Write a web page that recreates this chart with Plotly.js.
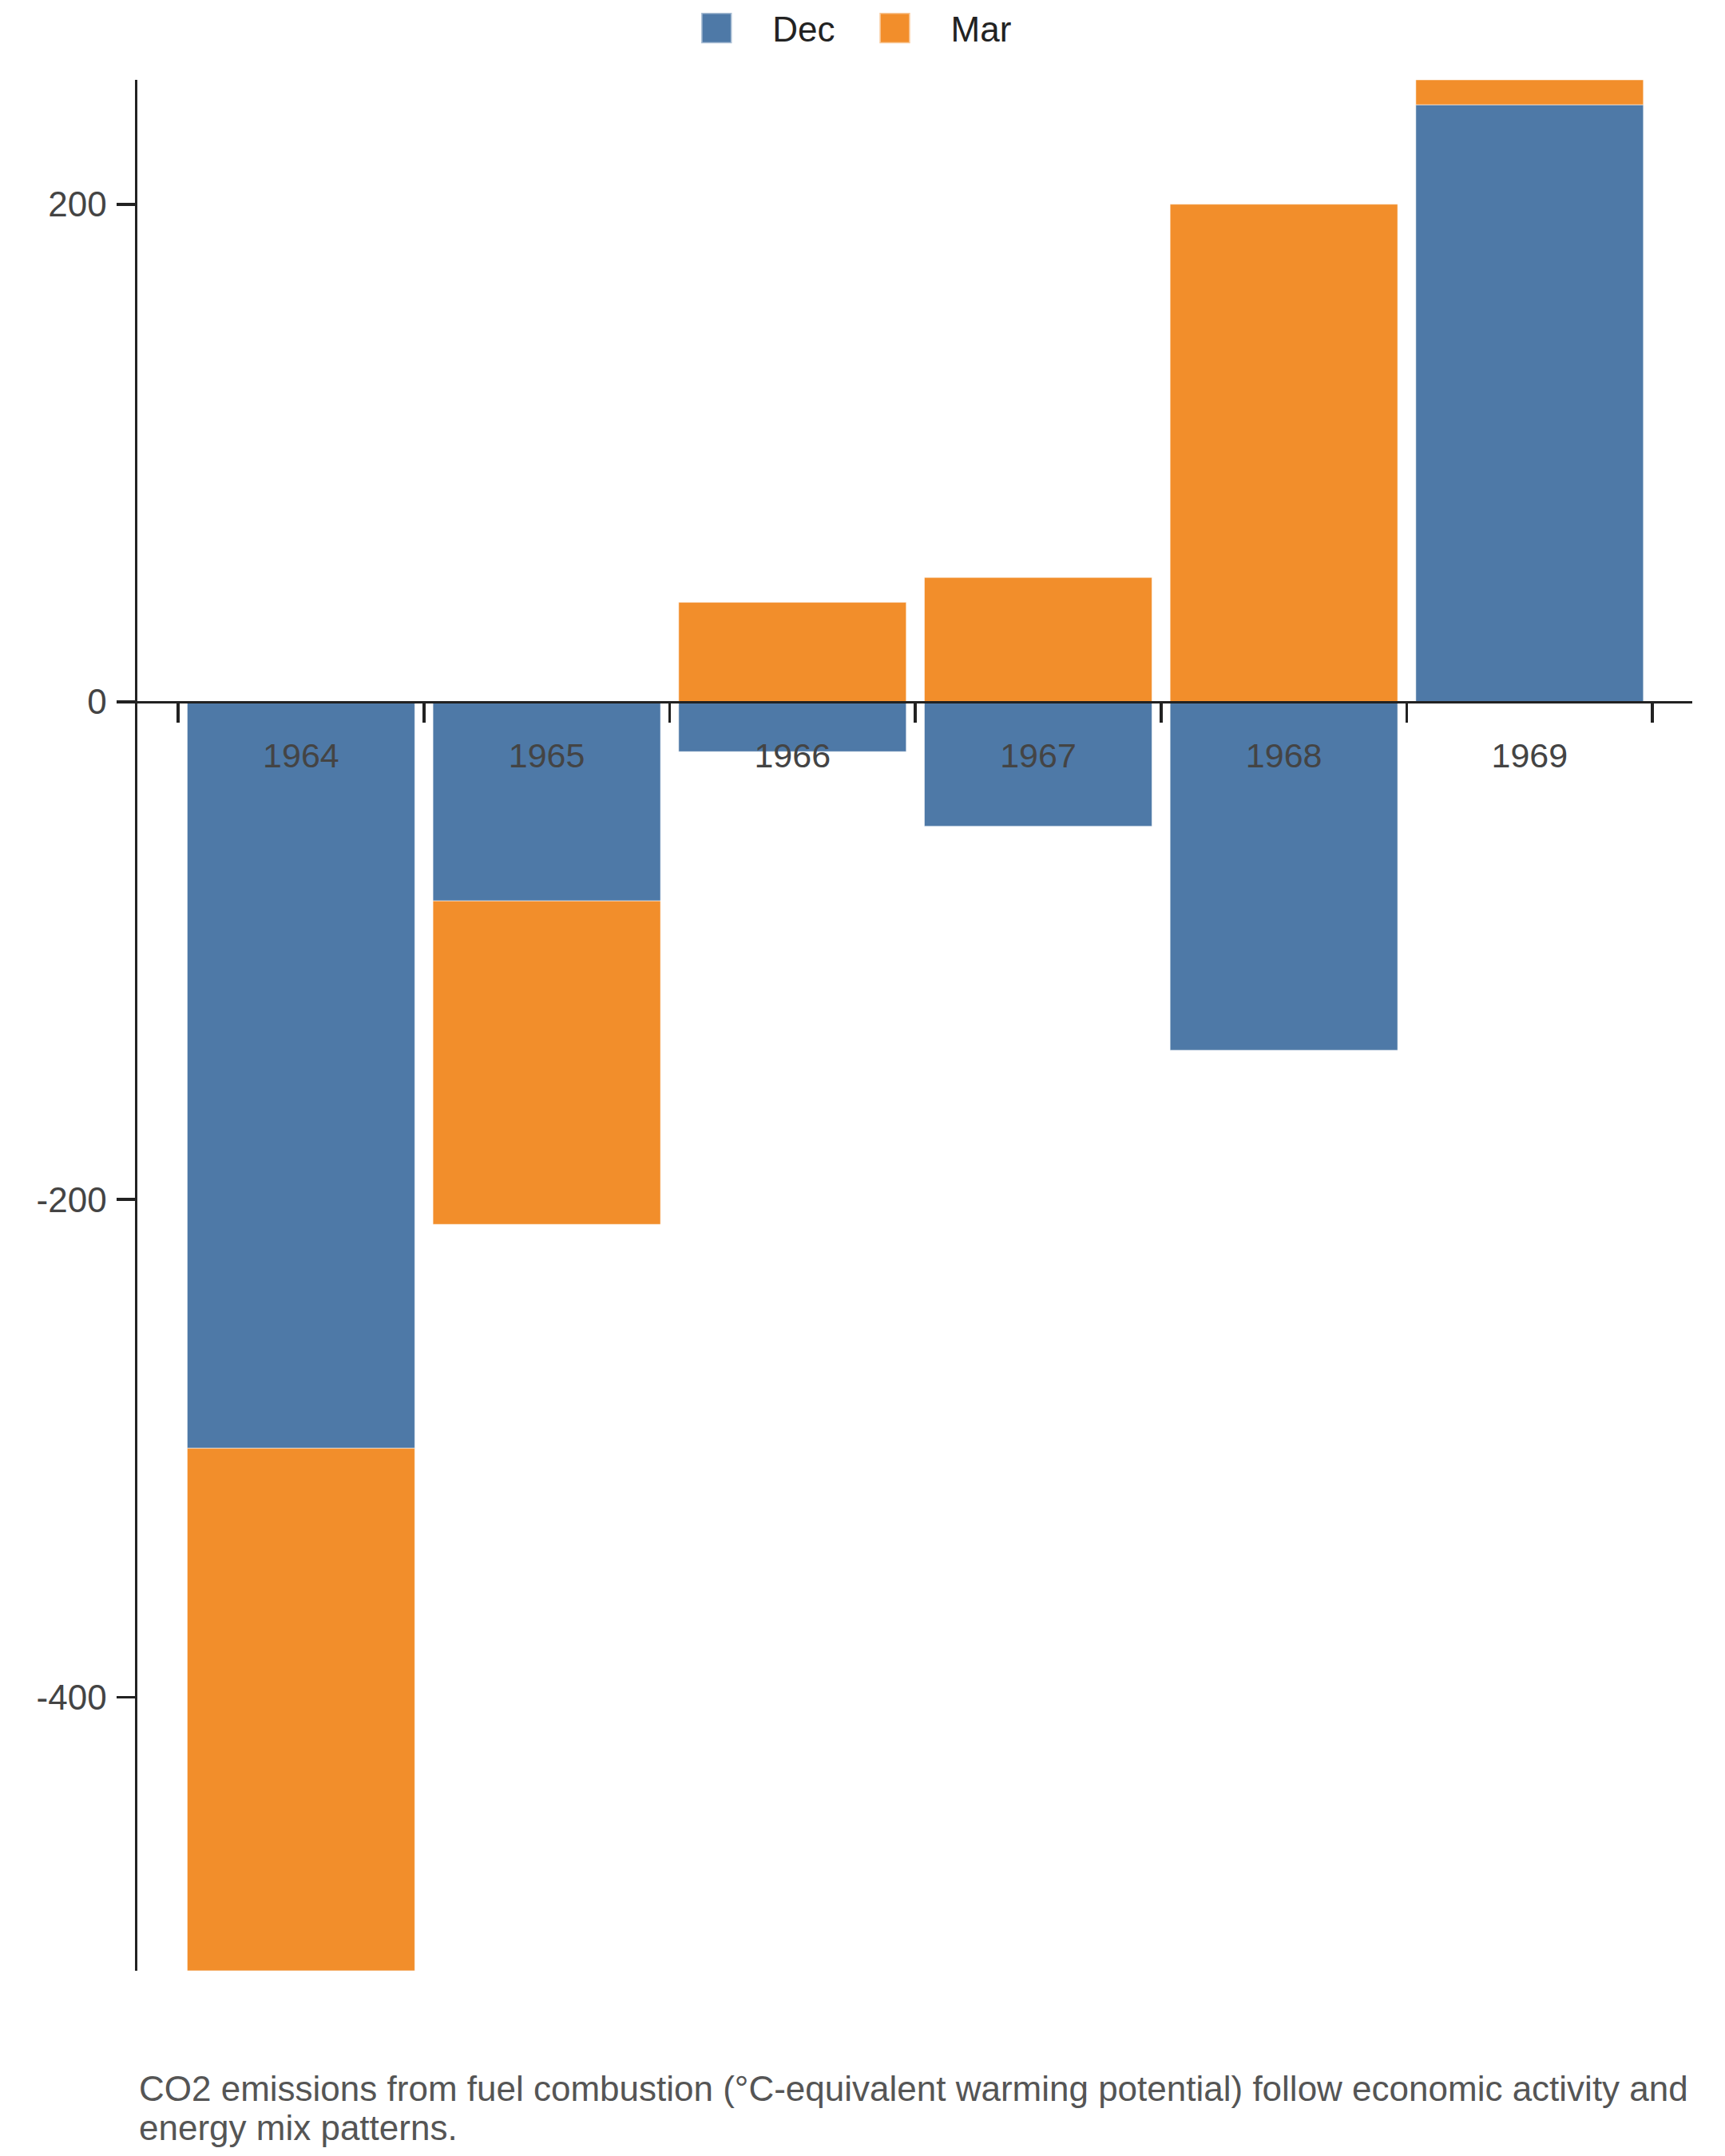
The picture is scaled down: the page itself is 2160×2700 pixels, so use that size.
<!DOCTYPE html>
<html>
<head>
<meta charset="utf-8">
<script src="https://cdn.plot.ly/plotly-3.0.1.min.js"></script>
<style>
  html, body { margin: 0; padding: 0; background: #fff; }
  #chart { width: 2160px; height: 2700px; }
</style>
</head>
<body>
<div id="chart"></div>
<script>
// values
var years = ['1964', '1965', '1966', '1967', '1968', '1969'];
var decValues = [-300, -80, -20, -50, -140, 240];
var marValues = [-210, -130, 40, 50, 200, 10];
var yTickVals = [-400, -200, 0, 200];
var yTickText = ['-400', '-200', '0', '200'];
var captionLines = [
  'CO2 emissions from fuel combustion (°C-equivalent warming potential) follow economic activity and',
  'energy mix patterns.'
];

var yRange = [-510, 250];
var xRange = [-0.666, 5.662];
// x axis sits on the zero line
var zeroPos = (0 - yRange[0]) / (yRange[1] - yRange[0]);

var fontFam = '"Liberation Sans", Arial, sans-serif';

var data = [
  {
    type: 'bar',
    name: 'Dec',
    x: years,
    y: decValues,
    marker: { color: '#4e79a7', line: { color: 'rgba(255,255,255,0.5)', width: 1 } },
    hoverinfo: 'x+y+name'
  },
  {
    type: 'bar',
    name: 'Mar',
    x: years,
    y: marValues,
    marker: { color: '#f28e2b', line: { color: 'rgba(255,255,255,0.5)', width: 1 } },
    hoverinfo: 'x+y+name'
  }
];

var annots = captionLines.map(function (t, i) {
  return {
    text: t,
    xref: 'paper',
    yref: 'paper',
    x: 0,
    y: -0.0513 - i * 0.0203,
    xanchor: 'left',
    yanchor: 'top',
    align: 'left',
    showarrow: false,
    font: { family: fontFam, size: 44, color: '#555' }
  };
});

var layout = {
  width: 2160,
  height: 2700,
  barmode: 'relative',
  bargap: 0.074,
  paper_bgcolor: '#ffffff',
  plot_bgcolor: '#ffffff',
  font: { family: fontFam, size: 43, color: '#444' },
  margin: { l: 172, r: 41, t: 100, b: 232, pad: 0 },
  showlegend: true,
  legend: {
    orientation: 'h',
    xref: 'container',
    yref: 'container',
    x: 0.486,
    xanchor: 'center',
    y: 1,
    yanchor: 'top',
    font: { family: fontFam, size: 44, color: '#222' },
    itemwidth: 130,
    traceorder: 'normal'
  },
  xaxis: {
    type: 'category',
    range: xRange,
    anchor: 'free',
    position: zeroPos,
    showline: true,
    linecolor: '#222',
    linewidth: 3.5,
    ticks: 'outside',
    tickson: 'boundaries',
    ticklen: 24,
    tickwidth: 3.5,
    tickcolor: '#222',
    showgrid: false,
    zeroline: false,
    tickfont: { family: fontFam, size: 43, color: '#444' },
    ticklabelstandoff: 28,
    fixedrange: true
  },
  yaxis: {
    range: yRange,
    showline: true,
    linecolor: '#222',
    linewidth: 3.5,
    ticks: 'outside',
    ticklen: 23,
    tickwidth: 3.5,
    tickcolor: '#222',
    tickmode: 'array',
    tickvals: yTickVals,
    ticktext: yTickText,
    showgrid: false,
    zeroline: false,
    tickfont: { family: fontFam, size: 44, color: '#444' },
    ticklabelstandoff: 3,
    fixedrange: true
  },
  annotations: annots
};

var config = { displayModeBar: false, staticPlot: true };

Plotly.newPlot('chart', data, layout, config).then(function () {
  // bigger legend swatches, like the reference
  document.querySelectorAll('.legend .legendpoints path').forEach(function (p) {
    var t = p.getAttribute('transform') || '';
    p.setAttribute('transform', t + ' scale(3.2)');
  });
});
</script>
</body>
</html>
